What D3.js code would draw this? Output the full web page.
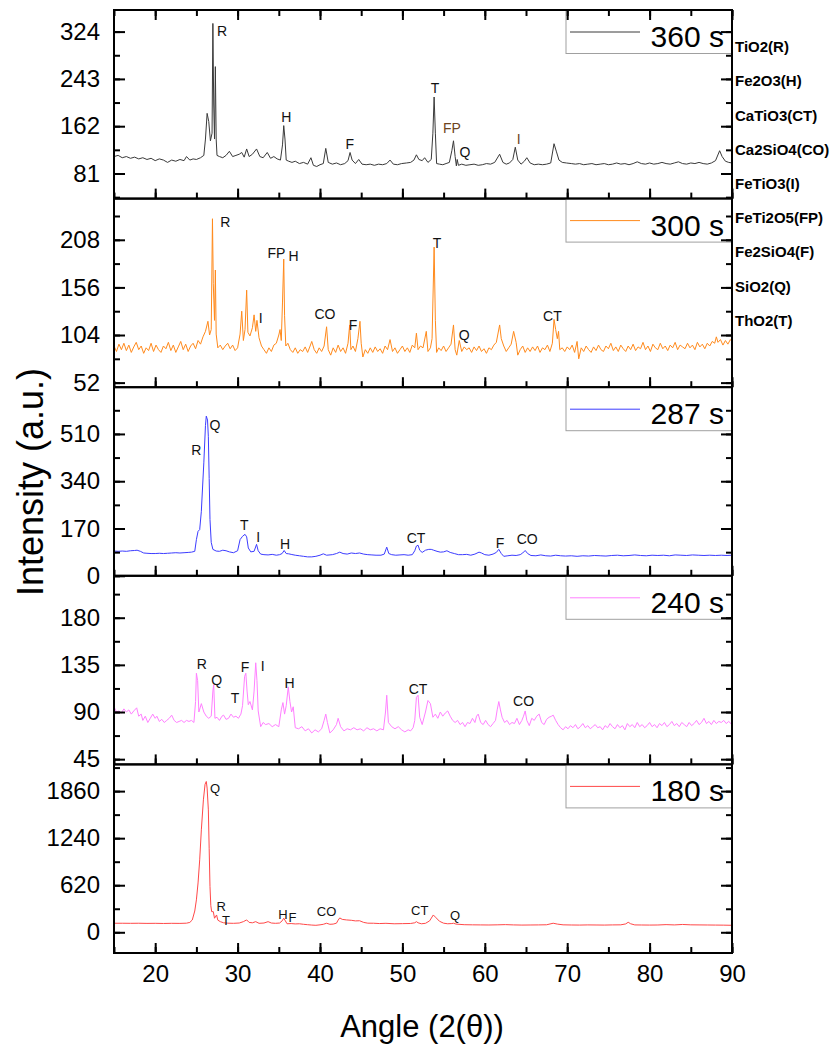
<!DOCTYPE html>
<html>
<head>
<meta charset="utf-8">
<script src="https://cdn.jsdelivr.net/npm/d3@7"></script>
<style>
body { margin: 0; background: #fff; }
text { font-family: "Liberation Sans", Arial, sans-serif; }
</style>
</head>
<body>
<svg id="chart" width="832" height="1045"></svg>
<script>
// XRD patterns, top to bottom
var labels = ["360 s", "300 s", "287 s", "240 s", "180 s"];
var colors = ["#3a3a3a", "#ff8a1c", "#3c3cff", "#ff80ff", "#ff4848"];
var yDomains = [[38, 361], [47, 253], [0, 678], [40, 220], [-273, 2212]];
var yTicks = [[81, 162, 243, 324], [52, 104, 156, 208], [0, 170, 340, 510], [45, 90, 135, 180], [0, 620, 1240, 1860]];
var xTicks = [20, 30, 40, 50, 60, 70, 80, 90];
var phases = ["TiO2(R)", "Fe2O3(H)", "CaTiO3(CT)", "Ca2SiO4(CO)", "FeTiO3(I)", "FeTi2O5(FP)", "Fe2SiO4(F)", "SiO2(Q)", "ThO2(T)"];

var s360 = [[15,110],[15.5,112],[16,108],[16.5,110],[17,107],[17.5,109],[18,106],[18.5,108],[19,105],[19.5,107],[20,103],[20.5,106],[21,104],[21.5,100],[22,104],[22.5,102],[23,105],[23.5,103],[23.8,110],[24.2,104],[24.6,106],[25,105],[25.5,108],[25.9,112],[26.1,140],[26.3,184],[26.5,170],[26.7,137],[26.9,150],[27.0,338],[27.1,200],[27.2,140],[27.3,264],[27.4,140],[27.5,112],[27.8,110],[28.2,108],[28.6,112],[29.0,119],[29.4,110],[29.8,112],[30.2,114],[30.5,117],[30.8,109],[31.1,123],[31.4,110],[31.8,114],[32.3,123],[32.7,110],[33.1,108],[33.6,117],[34.0,107],[34.4,110],[34.8,106],[35.2,104],[35.45,130],[35.6,163],[35.75,140],[35.9,104],[36.2,102],[36.6,100],[37.0,102],[37.5,98],[38.0,100],[38.5,97],[38.9,108],[39.2,95],[39.6,93],[40.0,96],[40.4,98],[40.7,124],[41.0,100],[41.5,97],[42.0,99],[42.5,96],[43.0,98],[43.4,103],[43.65,117],[43.9,104],[44.3,98],[44.7,105],[45.1,97],[45.6,96],[46.1,97],[46.6,95],[47.1,97],[47.6,96],[48.1,98],[48.5,104],[48.9,97],[49.4,96],[49.9,98],[50.5,99],[51.0,100],[51.4,104],[51.7,113],[52.0,105],[52.4,103],[52.7,108],[53.1,100],[53.5,105],[53.7,150],[53.85,212],[54.0,150],[54.15,98],[54.5,97],[54.9,96],[55.3,98],[55.7,100],[56.0,120],[56.2,137],[56.4,110],[56.55,94],[56.65,105],[56.8,95],[57.2,97],[57.7,95],[58.2,96],[58.7,97],[59.2,95],[59.7,96],[60.2,98],[60.7,97],[61.2,100],[61.8,114],[62.2,100],[62.6,97],[63.0,99],[63.4,105],[63.7,126],[64.0,104],[64.4,97],[64.8,102],[65.1,108],[65.5,99],[66.0,96],[66.5,97],[67.0,96],[67.5,97],[68.0,99],[68.4,132],[68.7,118],[69.0,104],[69.4,100],[69.9,99],[70.5,98],[71,97],[71.5,98],[72,96],[72.5,97],[73,98],[73.5,96],[74,97],[74.5,98],[75,96],[75.5,97],[76,99],[76.5,97],[77,98],[77.5,96],[78,98],[78.5,101],[79,98],[79.5,97],[80,99],[80.5,97],[81,98],[81.5,100],[82,98],[82.5,97],[83,99],[83.5,101],[84,98],[84.5,97],[85,99],[85.5,98],[86,100],[86.5,98],[87,97],[87.5,99],[88,103],[88.5,120],[88.8,110],[89.2,102],[89.6,100],[90,99]];

var s300 = [[15,92],[15.3,86],[15.6,94],[15.9,88],[16.2,95],[16.5,87],[16.8,93],[17.1,85],[17.4,91],[17.7,96],[18.0,88],[18.3,92],[18.6,84],[18.9,90],[19.2,87],[19.5,95],[19.8,86],[20.1,93],[20.4,88],[20.7,85],[21.0,92],[21.3,89],[21.6,96],[21.9,87],[22.2,93],[22.5,85],[22.8,91],[23.1,97],[23.4,88],[23.7,94],[24.0,86],[24.3,92],[24.6,95],[24.9,89],[25.2,98],[25.5,94],[25.8,102],[26.1,108],[26.4,119],[26.6,104],[26.8,110],[26.95,231],[27.05,160],[27.2,120],[27.3,175],[27.4,105],[27.6,90],[27.9,93],[28.2,88],[28.5,92],[28.8,95],[29.1,89],[29.4,93],[29.7,87],[30.0,90],[30.3,105],[30.5,130],[30.7,98],[30.9,110],[31.1,153],[31.25,107],[31.5,103],[31.8,112],[32.0,126],[32.2,108],[32.35,120],[32.6,101],[32.9,92],[33.2,88],[33.5,84],[33.8,90],[34.1,86],[34.4,93],[34.7,95],[35.0,104],[35.15,110],[35.3,98],[35.45,140],[35.6,187],[35.7,125],[35.85,92],[36.1,95],[36.4,88],[36.7,85],[37.0,90],[37.3,84],[37.6,88],[37.9,86],[38.2,91],[38.5,85],[38.8,92],[39.0,97],[39.3,88],[39.6,84],[39.9,90],[40.2,86],[40.5,92],[40.8,113],[41.0,88],[41.3,82],[41.6,90],[41.9,85],[42.2,93],[42.5,86],[42.8,90],[43.1,84],[43.4,95],[43.6,115],[43.75,88],[44.0,92],[44.3,86],[44.6,100],[44.85,119],[45.0,95],[45.2,80],[45.5,88],[45.8,84],[46.1,90],[46.4,85],[46.7,91],[47.0,86],[47.3,89],[47.6,84],[47.9,92],[48.2,88],[48.5,99],[48.8,86],[49.1,90],[49.4,84],[49.7,88],[50.0,92],[50.3,86],[50.6,90],[50.9,85],[51.2,93],[51.5,90],[51.7,106],[51.9,88],[52.2,92],[52.5,90],[52.9,108],[53.1,86],[53.4,90],[53.6,100],[53.85,200],[54.0,120],[54.15,85],[54.4,90],[54.7,87],[55.0,92],[55.3,86],[55.6,90],[55.9,94],[56.2,115],[56.4,88],[56.6,82],[56.9,98],[57.2,86],[57.5,91],[57.8,88],[58.1,90],[58.4,85],[58.7,91],[59.0,87],[59.3,92],[59.6,86],[59.9,89],[60.2,84],[60.5,90],[60.8,88],[61.1,93],[61.4,96],[61.8,115],[62.0,100],[62.3,92],[62.6,86],[62.9,90],[63.2,94],[63.5,108],[63.8,96],[64.0,82],[64.3,88],[64.6,92],[64.9,85],[65.2,90],[65.5,86],[65.8,91],[66.1,87],[66.4,92],[66.7,85],[67.0,90],[67.3,88],[67.6,93],[67.9,86],[68.2,95],[68.4,121],[68.6,110],[68.8,100],[68.95,108],[69.1,88],[69.4,90],[69.7,86],[70.0,91],[70.3,88],[70.6,93],[70.9,85],[71.2,97],[71.4,78],[71.7,90],[72.0,86],[72.3,92],[72.6,88],[72.9,85],[73.2,91],[73.5,87],[73.8,93],[74.1,88],[74.4,86],[74.7,92],[75.0,89],[75.3,95],[75.6,87],[75.9,91],[76.2,86],[76.5,93],[76.8,89],[77.1,86],[77.4,92],[77.7,88],[78.0,94],[78.3,87],[78.6,91],[78.9,89],[79.2,96],[79.5,88],[79.8,92],[80.1,86],[80.4,94],[80.7,90],[81.0,88],[81.3,95],[81.6,89],[81.9,92],[82.2,87],[82.5,93],[82.8,90],[83.1,96],[83.4,88],[83.7,93],[84.0,91],[84.3,89],[84.6,95],[84.9,90],[85.2,93],[85.5,88],[85.8,96],[86.1,91],[86.4,94],[86.7,89],[87.0,95],[87.3,92],[87.6,97],[87.9,95],[88.1,102],[88.3,96],[88.6,99],[88.9,93],[89.2,98],[89.5,94],[89.8,99],[90,97]];

var s287 = [[15,89],[15.5,88],[16,89],[16.5,88],[17,90],[17.5,91],[17.8,92],[18.2,88],[18.6,82],[19,81],[19.5,80],[20,80],[20.5,81],[21,80],[21.5,81],[22,82],[22.5,83],[23,82],[23.5,83],[24,84],[24.4,85],[24.8,88],[25.0,130],[25.2,160],[25.4,166],[25.6,232],[25.9,406],[26.1,540],[26.2,574],[26.35,560],[26.45,500],[26.55,350],[26.65,202],[26.8,120],[27.0,95],[27.4,89],[27.8,88],[28.2,92],[28.6,90],[29,86],[29.5,83],[30.0,90],[30.3,130],[30.6,142],[30.9,149],[31.1,140],[31.3,100],[31.6,86],[32.0,88],[32.3,113],[32.5,90],[32.8,78],[33.2,76],[33.7,75],[34.2,77],[34.7,74],[35.1,76],[35.4,80],[35.65,91],[35.9,80],[36.2,79],[36.5,77],[37,74],[37.5,72],[38,70],[38.5,68],[39,68],[39.5,70],[40,74],[40.4,79],[40.8,74],[41.5,76],[42.0,80],[42.4,85],[42.8,80],[43.3,78],[43.8,82],[44.3,80],[44.8,82],[45.3,78],[45.8,76],[46.3,75],[46.8,74],[47.4,74],[47.8,78],[48.1,103],[48.35,80],[48.7,76],[49.2,74],[49.7,75],[50.2,76],[50.7,74],[51.2,76],[51.5,90],[51.7,107],[51.9,110],[52.1,92],[52.4,84],[52.8,92],[53.2,95],[53.5,95],[53.8,92],[54.2,88],[54.6,85],[55.0,86],[55.4,90],[55.8,84],[56.3,80],[56.8,76],[57.3,76],[57.8,77],[58.3,74],[58.8,78],[59.3,85],[59.6,82],[60.0,76],[60.5,74],[61.0,78],[61.4,84],[61.7,95],[62.0,80],[62.3,70],[62.8,72],[63.3,74],[63.8,73],[64.3,76],[64.6,82],[64.9,91],[65.2,80],[65.6,73],[66.2,72],[66.8,75],[67.4,72],[68,71],[68.6,74],[69.2,72],[69.8,71],[70.5,72],[71.2,70],[71.9,72],[72.6,71],[73.3,73],[74,72],[74.7,71],[75.4,73],[76.1,74],[76.8,72],[77.5,73],[78.2,75],[78.9,73],[79.6,72],[80.3,74],[81,73],[81.7,74],[82.4,72],[83.1,75],[83.8,74],[84.5,73],[85.2,75],[85.9,74],[86.6,73],[87.3,74],[88,73],[88.7,74],[89.4,73],[90,74]];

var s240 = [[15,95],[15.3,90],[15.6,91],[15.9,89],[16.2,93],[16.5,90],[16.8,92],[17.1,88],[17.4,91],[17.75,94],[18.0,86],[18.3,88],[18.5,82],[18.8,86],[19.1,80],[19.4,84],[19.7,88],[20.0,84],[20.2,86],[20.5,81],[20.8,83],[21.1,80],[21.4,82],[21.7,84],[22.0,87],[22.3,82],[22.6,80],[22.9,81],[23.2,82],[23.5,80],[23.8,82],[24.1,81],[24.4,82],[24.7,80],[24.9,100],[25.0,127],[25.15,120],[25.3,90],[25.6,98],[25.9,90],[26.2,86],[26.5,84],[26.8,86],[27.0,110],[27.1,116],[27.25,84],[27.5,85],[27.8,82],[28.1,86],[28.3,87],[28.6,83],[28.9,84],[29.2,88],[29.5,85],[29.8,86],[30.1,84],[30.4,88],[30.6,96],[30.85,124],[31.0,127],[31.15,110],[31.3,97],[31.5,100],[31.8,92],[32.0,110],[32.2,137],[32.35,120],[32.5,91],[32.8,76],[33.1,80],[33.4,78],[33.8,79],[34.2,76],[34.6,78],[35.0,76],[35.3,92],[35.5,99],[35.7,88],[35.9,96],[36.15,114],[36.35,100],[36.55,90],[36.75,95],[37.0,75],[37.4,74],[37.8,76],[38.2,72],[38.6,74],[39.0,70],[39.4,73],[39.8,71],[40.2,74],[40.5,82],[40.7,88],[40.9,80],[41.2,70],[41.6,73],[42.0,78],[42.2,84],[42.5,76],[42.9,72],[43.3,74],[43.7,73],[44.1,75],[44.5,73],[44.9,74],[45.3,72],[45.7,75],[46.1,73],[46.5,74],[46.9,72],[47.3,74],[47.7,73],[47.95,90],[48.1,106],[48.3,80],[48.7,76],[49.1,74],[49.5,76],[49.9,73],[50.3,71],[50.7,73],[51.0,72],[51.3,75],[51.5,82],[51.7,104],[51.9,106],[52.1,85],[52.4,78],[52.8,90],[53.1,101],[53.4,98],[53.7,85],[54.0,88],[54.3,84],[54.6,90],[54.9,86],[55.2,89],[55.5,91],[55.8,86],[56.1,82],[56.4,80],[56.7,82],[57.0,78],[57.3,80],[57.6,76],[57.9,80],[58.2,79],[58.5,84],[58.8,80],[59.0,86],[59.2,88],[59.5,80],[59.8,78],[60.1,82],[60.4,78],[60.7,76],[61.0,79],[61.3,82],[61.5,92],[61.7,100],[61.9,92],[62.1,85],[62.4,80],[62.7,82],[63.0,78],[63.3,80],[63.6,79],[63.9,84],[64.2,78],[64.5,82],[64.7,86],[64.9,91],[65.1,82],[65.4,77],[65.7,84],[66.0,82],[66.3,86],[66.6,88],[66.9,80],[67.2,78],[67.5,83],[67.8,85],[68.1,86],[68.3,87],[68.6,82],[68.9,78],[69.2,75],[69.5,73],[69.8,76],[70.1,74],[70.4,77],[70.7,75],[71.0,78],[71.3,74],[71.6,76],[71.9,79],[72.2,75],[72.5,77],[72.8,74],[73.1,76],[73.4,78],[73.7,75],[74.0,76],[74.3,73],[74.6,77],[74.9,75],[75.2,79],[75.5,76],[75.8,74],[76.1,78],[76.4,75],[76.7,77],[77.0,73],[77.3,79],[77.6,76],[77.9,78],[78.2,75],[78.5,80],[78.8,76],[79.1,78],[79.4,75],[79.7,77],[80.0,80],[80.3,76],[80.6,78],[80.9,75],[81.2,79],[81.5,77],[81.8,80],[82.1,76],[82.4,78],[82.7,81],[83.0,77],[83.3,79],[83.6,76],[83.9,80],[84.2,78],[84.5,76],[84.8,80],[85.1,77],[85.4,79],[85.7,82],[86.0,78],[86.3,80],[86.6,84],[86.9,79],[87.2,81],[87.5,78],[87.8,82],[88.1,79],[88.4,81],[88.7,80],[89.0,82],[89.3,79],[89.6,81],[90,78]];

var s180 = [[15,119],[16,119],[17,118],[18,119],[19,117],[20,118],[21,116],[22,118],[23,117],[23.8,120],[24.2,130],[24.5,162],[24.8,280],[25.0,427],[25.2,650],[25.4,954],[25.6,1350],[25.85,1745],[26.05,1950],[26.2,1987],[26.3,1900],[26.45,1613],[26.55,1100],[26.65,602],[26.75,350],[26.85,272],[27.05,272],[27.2,185],[27.45,228],[27.6,160],[27.9,140],[28.3,125],[28.8,120],[29.5,118],[30.2,122],[30.7,140],[31.1,163],[31.4,130],[31.8,125],[32.2,140],[32.6,118],[33.2,122],[33.7,140],[34.1,122],[34.6,118],[35.1,122],[35.4,150],[35.6,185],[35.8,150],[36.0,112],[36.5,115],[37.0,110],[37.5,112],[38.0,105],[38.5,100],[39.0,95],[39.5,92],[40.0,98],[40.4,105],[40.8,119],[41.2,105],[41.6,108],[42.0,120],[42.2,160],[42.4,189],[42.7,170],[43.2,163],[43.8,158],[44.3,150],[44.8,152],[45.3,130],[45.8,120],[46.5,119],[47.2,115],[48,118],[49,112],[50,114],[51,116],[51.5,125],[51.7,140],[51.9,125],[52.3,112],[52.8,118],[53.3,150],[53.75,228],[54.1,190],[54.5,145],[55.0,120],[55.5,112],[56.0,115],[56.2,119],[56.5,108],[57.5,100],[58.5,98],[59.5,97],[60.5,96],[61.5,98],[62.5,101],[63.5,97],[64.5,95],[65.5,96],[66.5,97],[67.5,99],[68.3,119],[68.8,108],[69.5,98],[70.5,96],[71.5,95],[72.5,97],[73.5,96],[74.5,95],[75.5,97],[76.5,98],[77.1,110],[77.4,132],[77.7,112],[78.2,97],[79,96],[80,95],[81,96],[82,101],[83,97],[84,103],[85,98],[86,97],[87,96],[88,95],[89,94],[90,92]];

// peak letters: [label, angle, intensity]
var p360 = [["R",28.1,325],["H",35.9,177],["F",43.6,132],["T",53.95,227],["FP",56.0,158],["Q",57.6,117],["I",64.1,140]];
var p300 = [["R",28.5,227],["FP",34.7,193],["H",36.8,190],["I",32.8,122],["CO",40.6,127],["F",44.0,115],["T",54.2,204],["Q",57.5,104],["CT",68.2,125]];
var p287 = [["Q",27.25,542],["R",25.0,453],["T",30.8,181],["I",32.5,140],["H",35.75,115],["CT",51.65,137],["F",61.85,119],["CO",65.15,131]];
var p240 = [["R",25.65,136],["Q",27.45,120.7],["T",29.7,103],["F",30.9,132.5],["I",33.05,134],["H",36.3,117.5],["CT",51.9,112],["CO",64.7,100]];
var p180 = [["Q",27.25,1900],["R",28.0,338],["T",28.6,153],["H",35.5,241],["F",36.65,198],["CO",40.8,281],["CT",52.1,285],["Q",56.4,228]];

var series = [s360, s300, s287, s240, s180];
var peaks = [p360, p300, p287, p240, p180];

var svg = d3.select("#chart");
var left = 114, right = 732, top0 = 10, bottom = 953;
var ph = (bottom - top0) / labels.length;

var x = d3.scaleLinear().domain([15, 90]).range([left, right]);
var minorX = d3.range(15, 91, 5);

labels.forEach(function(name, i) {
    var top = top0 + i * ph;
    var y = d3.scaleLinear().domain(yDomains[i]).range([top + ph, top]);
    var g = svg.append("g");
    var step = yTicks[i][1] - yTicks[i][0];
    var minorY = d3.range(yTicks[i][0] - step / 2, yDomains[i][1], step / 2)
        .filter(function(v) { return v >= yDomains[i][0]; });

    // curve
    g.append("path")
        .datum(series[i])
        .attr("fill", "none")
        .attr("stroke", colors[i])
        .attr("stroke-width", 1)
        .attr("d", d3.line().x(function(d) { return x(d[0]); }).y(function(d) { return y(d[1]); }));

    // peak letters
    g.selectAll(".pk").data(peaks[i]).enter().append("text")
        .attr("x", function(d) { return x(d[1]); })
        .attr("y", function(d) { return y(d[2]); })
        .attr("dy", "0.35em")
        .attr("text-anchor", "middle")
        .attr("font-size", i == 4 ? 13 : 14)
        .attr("fill", function(d) { return (i == 0 && (d[0] == "I" || d[0] == "FP")) ? "#6e4420" : "#111"; })
        .text(function(d) { return d[0]; });

    // legend box
    g.append("rect")
        .attr("x", 566).attr("y", top + 0.5)
        .attr("width", right - 566).attr("height", 43)
        .attr("fill", "#fff").attr("stroke", "#a0a0a0").attr("stroke-width", 1);
    g.append("line")
        .attr("x1", 570).attr("x2", 640)
        .attr("y1", top + 22).attr("y2", top + 22)
        .attr("stroke", colors[i]).attr("stroke-width", 1);
    g.append("text")
        .attr("x", 724).attr("y", top + 37)
        .attr("text-anchor", "end")
        .attr("font-size", 30)
        .text(name);

    // y axes (ticks point inward)
    var ya = g.append("g").attr("transform", "translate(" + left + ",0)")
        .call(d3.axisLeft(y).tickValues(yTicks[i]).tickSizeInner(-11).tickSizeOuter(0).tickPadding(14).tickFormat(d3.format("d")));
    ya.selectAll("text").attr("font-size", 24).attr("fill", "#000")
        .attr("font-family", "Liberation Sans, Arial, sans-serif");
    g.append("g").attr("transform", "translate(" + left + ",0)")
        .call(d3.axisLeft(y).tickValues(minorY).tickSizeInner(-6).tickSizeOuter(0).tickFormat(""));
    g.append("g").attr("transform", "translate(" + right + ",0)")
        .call(d3.axisRight(y).tickValues(yTicks[i]).tickSizeInner(-11).tickSizeOuter(0).tickFormat(""));
    g.append("g").attr("transform", "translate(" + right + ",0)")
        .call(d3.axisRight(y).tickValues(minorY).tickSizeInner(-6).tickSizeOuter(0).tickFormat(""));

    // x ticks on panel bottom (and top for first panel)
    var xa = g.append("g").attr("transform", "translate(0," + (top + ph) + ")")
        .call(d3.axisBottom(x).tickValues(xTicks).tickSizeInner(-10).tickSizeOuter(0).tickPadding(12)
            .tickFormat(i == labels.length - 1 ? d3.format("d") : ""));
    xa.selectAll("text").attr("font-size", 24).attr("fill", "#000")
        .attr("font-family", "Liberation Sans, Arial, sans-serif");
    g.append("g").attr("transform", "translate(0," + (top + ph) + ")")
        .call(d3.axisBottom(x).tickValues(minorX).tickSizeInner(-6).tickSizeOuter(0).tickFormat(""));
    if (i == 0) {
        g.append("g").attr("transform", "translate(0," + top + ")")
            .call(d3.axisTop(x).tickValues(xTicks).tickSizeInner(-10).tickSizeOuter(0).tickFormat(""));
        g.append("g").attr("transform", "translate(0," + top + ")")
            .call(d3.axisTop(x).tickValues(minorX).tickSizeInner(-6).tickSizeOuter(0).tickFormat(""));
    }
    g.selectAll(".domain").remove();
    g.selectAll(".tick line").attr("stroke", "#000").attr("stroke-width", 2);

    // frame
    g.append("rect")
        .attr("x", left).attr("y", top)
        .attr("width", right - left).attr("height", ph)
        .attr("fill", "none").attr("stroke", "#000").attr("stroke-width", 2);
});

// phase key on the right
svg.selectAll(".phase").data(phases).enter().append("text")
    .attr("x", 735)
    .attr("y", function(d, i) { return 47 + i * 34.2; })
    .attr("dy", "0.35em")
    .attr("font-size", 15)
    .attr("font-weight", "bold")
    .text(function(d) { return d; });

// axis titles
svg.append("text")
    .attr("transform", "translate(43,482) rotate(-90)")
    .attr("text-anchor", "middle")
    .attr("font-size", 36)
    .text("Intensity (a.u.)");
svg.append("text")
    .attr("x", 422).attr("y", 1037)
    .attr("text-anchor", "middle")
    .attr("font-size", 31)
    .text("Angle (2(θ))");
</script>
</body>
</html>
